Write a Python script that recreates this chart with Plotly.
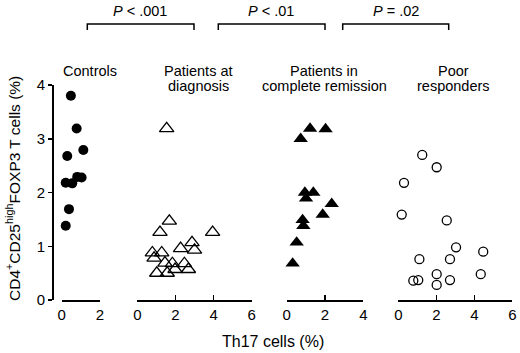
import plotly.graph_objects as go

# ---- data ----
controls_x = [0.48, 0.78, 0.29, 1.13, 0.21, 0.55, 0.81, 1.04, 0.38, 0.21]
controls_y = [3.80, 3.19, 2.68, 2.79, 2.18, 2.17, 2.29, 2.28, 1.69, 1.38]

diagnosis_x = [1.54, 1.68, 1.19, 3.95, 2.87, 2.27, 3.00, 6.05, 0.79, 1.28,
               0.88, 1.45, 1.84, 2.47, 1.98, 2.68, 1.02, 1.57]
diagnosis_y = [3.19, 1.47, 1.26, 1.26, 1.07, 0.96, 0.93, 0.96, 0.88, 0.88,
               0.78, 0.69, 0.68, 0.68, 0.57, 0.57, 0.50, 0.50]

remission_x = [1.22, 2.03, 0.73, 0.95, 1.39, 1.01, 2.35, 1.88, 0.83, 0.87, 0.52, 0.31]
remission_y = [3.19, 3.18, 3.00, 2.00, 2.00, 1.89, 1.79, 1.59, 1.49, 1.38, 1.07, 0.68]

poor_x = [1.26, 2.02, 0.30, 0.18, 2.55, 3.04, 4.47, 1.11, 2.72, 2.02, 4.34, 0.79, 1.05, 2.72, 2.02]
poor_y = [2.70, 2.47, 2.18, 1.59, 1.48, 0.98, 0.90, 0.76, 0.76, 0.48, 0.48, 0.36, 0.37, 0.37, 0.28]

x_max = [2, 6, 4, 6]
x_ticks = [[0, 2], [0, 2, 4, 6], [0, 2, 4], [0, 2, 4, 6]]
y_ticks = [0, 1, 2, 3, 4]
group_titles = [["Controls"], ["Patients at", "diagnosis"],
                ["Patients in", "complete remission"], ["Poor", "responders"]]
p_labels = ["<i>P</i> < .001", "<i>P</i> < .01", "<i>P</i> = .02"]

W, H = 520, 353
FONT = "Liberation Sans, Arial, sans-serif"

def px(x):
    return x / W

def py(y):
    return 1 - y / H

fig = go.Figure()

fig.add_trace(go.Scatter(x=controls_x, y=controls_y, mode="markers", xaxis="x", yaxis="y",
                         marker=dict(symbol="circle", size=10, color="black"),
                         cliponaxis=False, showlegend=False))
fig.add_trace(go.Scatter(x=diagnosis_x, y=diagnosis_y, mode="markers", xaxis="x2", yaxis="y",
                         marker=dict(symbol="triangle-up-open", size=12.5, color="black",
                                     line=dict(width=1.3, color="black")),
                         cliponaxis=False, showlegend=False))
fig.add_trace(go.Scatter(x=remission_x, y=remission_y, mode="markers", xaxis="x3", yaxis="y",
                         marker=dict(symbol="triangle-up", size=12.5, color="black"),
                         cliponaxis=False, showlegend=False))
fig.add_trace(go.Scatter(x=poor_x, y=poor_y, mode="markers", xaxis="x4", yaxis="y",
                         marker=dict(symbol="circle-open", size=9, color="black",
                                     line=dict(width=1.3, color="black")),
                         cliponaxis=False, showlegend=False))

domains_px = [(61.7, 100.0), (137.3, 251.7), (286.7, 363.3), (398.3, 512.3)]
ydom = [53 / H, 268 / H]

axis_common = dict(showline=True, linecolor="black", linewidth=1.5, ticks="inside",
                   ticklen=5, tickwidth=1.5, tickcolor="black", showgrid=False,
                   zeroline=False, tickfont=dict(family=FONT, size=15, color="black"),
                   fixedrange=True, automargin=False)

layout = dict(width=W, height=H, margin=dict(l=0, r=0, t=0, b=0),
              paper_bgcolor="white", plot_bgcolor="white", showlegend=False,
              font=dict(family=FONT, color="black"))
for i, (d, mx, tv) in enumerate(zip(domains_px, x_max, x_ticks)):
    name = "xaxis" if i == 0 else f"xaxis{i+1}"
    layout[name] = dict(domain=[px(d[0]), px(d[1])], range=[0, mx], tickvals=tv,
                        anchor="y", **axis_common)

layout["yaxis"] = dict(domain=ydom, range=[0, 4], tickvals=y_ticks, anchor="free",
                       position=px(52), showline=True, linecolor="black", linewidth=1.5,
                       ticks="outside", ticklen=4, tickwidth=1.5, tickcolor="black",
                       showgrid=False, zeroline=False,
                       tickfont=dict(family=FONT, size=15, color="black"),
                       fixedrange=True, automargin=False)
fig.update_layout(**layout)

ann = []
# group titles
title_x = [90, 198, 324, 453.5]
for tx, lines in zip(title_x, group_titles):
    for j, line in enumerate(lines):
        ann.append(dict(x=px(tx), y=py(71 + 15 * j), xref="paper", yref="paper",
                        text=line, showarrow=False, xanchor="center", yanchor="middle",
                        font=dict(family=FONT, size=14.5, color="black")))
# p-values
p_x = [140, 270.5, 395.5]
for tx, t in zip(p_x, p_labels):
    ann.append(dict(x=px(tx), y=py(11.5), xref="paper", yref="paper", text=t,
                    showarrow=False, xanchor="center", yanchor="middle",
                    font=dict(family=FONT, size=14.5, color="black")))
# axis titles
ann.append(dict(x=px(272.5), y=py(341.5), xref="paper", yref="paper",
                text="Th17 cells (%)", showarrow=False, xanchor="center", yanchor="middle",
                font=dict(family=FONT, size=16, color="black")))
ann.append(dict(x=px(13), y=py(189), xref="paper", yref="paper",
                text="CD4<sup>+</sup>CD25<sup>high</sup>FOXP3 T cells (%)", textangle=-90,
                showarrow=False, xanchor="center", yanchor="middle",
                font=dict(family=FONT, size=15.5, color="black")))
fig.update_layout(annotations=ann)

# significance brackets
brackets = [(87.3, 194.0), (218.3, 325.0), (342.7, 448.7)]
shapes = []
for a, b in brackets:
    path = (f"M {px(a)},{py(30)} L {px(a)},{py(24)} L {px(b)},{py(24)} L {px(b)},{py(30)}")
    shapes.append(dict(type="path", path=path, xref="paper", yref="paper",
                       line=dict(color="black", width=1.5)))
fig.update_layout(shapes=shapes)

fig.write_html("out.html",
               config={"displayModeBar": False, "staticPlot": True},
               post_script="document.body.style.margin='0';document.body.style.padding='0';"
                           "document.documentElement.style.overflow='hidden';")
